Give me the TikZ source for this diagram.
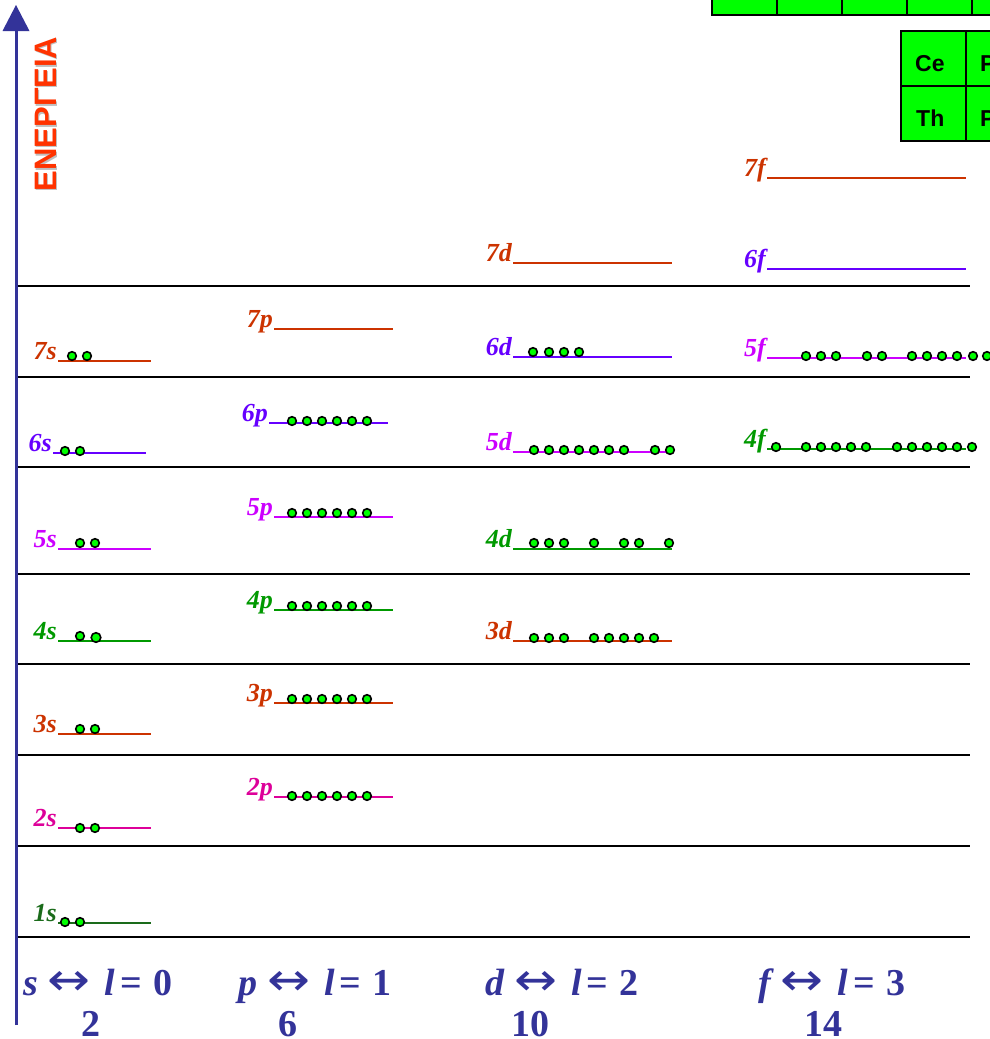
\documentclass[tikz,border=0pt]{standalone}
\usepackage{fontspec}
\setmainfont{Liberation Serif}
\newfontfamily\energysans{Liberation Sans}
\newfontfamily\arrowfont{DejaVu Sans}
\definecolor{axisblue}{HTML}{333399}
\definecolor{orr}{HTML}{CC3300}
\definecolor{vio}{HTML}{6600FF}
\definecolor{mag}{HTML}{CC00FF}
\definecolor{grn}{HTML}{009900}
\definecolor{pnk}{HTML}{DD0099}
\definecolor{dgrn}{HTML}{1A6B1A}
\definecolor{ered}{HTML}{FF3300}
\definecolor{tgreen}{HTML}{00FF00}
\tikzset{
  lbl/.style={font=\fontsize{26}{26}\selectfont\bfseries\itshape, inner sep=0pt, anchor=base east},
  eline/.style={line width=1.5pt},
  electron/.style={draw=black, fill=tgreen, line width=1.6pt},
  level/.style={draw=black, line width=2pt},
  cell/.style={draw=black, fill=tgreen, line width=2pt},
  celltext/.style={font=\energysans\fontsize{23}{23}\selectfont\bfseries, inner sep=0pt, anchor=base west},
  qlabel/.style={font=\fontsize{38}{38}\selectfont\bfseries, text=axisblue, inner sep=0pt, anchor=base west},
  qnum/.style={font=\fontsize{38}{38}\selectfont\bfseries, text=axisblue, inner sep=0pt, anchor=base}
}
\newcommand\orbital[6]{%
  \node[lbl, text=#3] (#1) at (#4-1, #6-2) {#2};
  \draw[eline, #3] (#4,#6) -- (#5,#6);
}
\newcommand\lrarr{\hspace{10pt}{\arrowfont\mdseries\scalebox{1.35}[1.2]{↔}}\hspace{14pt}}
\newcommand\qrow[2]{\itshape #1\upshape\lrarr\itshape l\upshape\hspace{5pt}=\hspace{11pt}#2}
\begin{document}
\begin{tikzpicture}[x=1pt,y=-1pt]
\clip (0,0) rectangle (990,1039);
\fill[white] (0,0) rectangle (990,1039);

% green tables
\foreach \x in {712,777,842,907,972} \draw[cell] (\x,-30) rectangle (\x+65,15);
\draw[cell] (901,31) rectangle (966,86);
\draw[cell] (966,31) rectangle (1031,86);
\draw[cell] (901,86) rectangle (966,141);
\draw[cell] (966,86) rectangle (1031,141);
\node[celltext] (ce) at (915,71) {Ce};
\node[celltext] (pr) at (980,71) {Pr};
\node[celltext] (th) at (916,126) {Th};
\node[celltext] (pa) at (980,126) {Pa};

% horizontal levels
\foreach \y in {286,377,467,574,664,755,846,937} \draw[level] (16,\y) -- (970,\y);

% axis
\draw[axisblue, line width=3pt] (16,1025) -- (16,28);
\fill[axisblue] (16,5) -- (29.5,31) -- (2.5,31) -- cycle;
\node[rotate=90, font=\energysans\fontsize{31}{31}\selectfont\bfseries, text=black!25, inner sep=0pt] (energyshadow) at (47,115.5) {ΕΝΕΡΓΕΙΑ};
\node[rotate=90, font=\energysans\fontsize{31}{31}\selectfont\bfseries, text=ered, inner sep=0pt] (energy) at (45.5,114) {ΕΝΕΡΓΕΙΑ};

% s column
\orbital{o7s}{7s}{orr}{58}{151}{361}
\orbital{o6s}{6s}{vio}{53}{146}{453}
\orbital{o5s}{5s}{mag}{58}{151}{549}
\orbital{o4s}{4s}{grn}{58}{151}{641}
\orbital{o3s}{3s}{orr}{58}{151}{734}
\orbital{o2s}{2s}{pnk}{58}{151}{828}
\orbital{o1s}{1s}{dgrn}{58}{151}{923}
\foreach \x in {72,87} \filldraw[electron] (\x,356) circle (4.3);
\foreach \x in {65,80} \filldraw[electron] (\x,451) circle (4.3);
\foreach \x in {80,95} \filldraw[electron] (\x,543) circle (4.3);
\filldraw[electron] (80,636) circle (4.3);
\filldraw[electron] (96,637.5) circle (4.8);
\foreach \x in {80,95} \filldraw[electron] (\x,729) circle (4.3);
\foreach \x in {80,95} \filldraw[electron] (\x,828) circle (4.3);
\foreach \x in {65,80} \filldraw[electron] (\x,922) circle (4.3);

% p column
\orbital{o7p}{7p}{orr}{274}{393}{329}
\orbital{o6p}{6p}{vio}{269}{388}{423}
\orbital{o5p}{5p}{mag}{274}{393}{517}
\orbital{o4p}{4p}{grn}{274}{393}{610}
\orbital{o3p}{3p}{orr}{274}{393}{703}
\orbital{o2p}{2p}{pnk}{274}{393}{797}
\foreach \y in {421,513,606,699,796}
  \foreach \x in {292,307,322,337,352,367} \filldraw[electron] (\x,\y) circle (4.3);

% d column
\orbital{o7d}{7d}{orr}{513}{672}{263}
\orbital{o6d}{6d}{vio}{513}{672}{357}
\orbital{o5d}{5d}{mag}{513}{672}{452}
\orbital{o4d}{4d}{grn}{513}{672}{549}
\orbital{o3d}{3d}{orr}{513}{672}{641}
\foreach \x in {533,549,564,579} \filldraw[electron] (\x,352) circle (4.3);
\foreach \x in {534,549,564,579,594,609,624,655,670} \filldraw[electron] (\x,450) circle (4.3);
\foreach \x in {534,549,564,594,624,639,669} \filldraw[electron] (\x,543) circle (4.3);
\foreach \x in {534,549,564,594,609,624,639,654} \filldraw[electron] (\x,638) circle (4.3);

% f column
\orbital{o7f}{7f}{orr}{767}{966}{178}
\orbital{o6f}{6f}{vio}{767}{966}{269}
\orbital{o5f}{5f}{mag}{767}{966}{358}
\orbital{o4f}{4f}{grn}{767}{966}{449}
\foreach \x in {806,821,836,867,882,912,927,942,957,973,987} \filldraw[electron] (\x,356) circle (4.3);
\foreach \x in {776,806,821,836,851,866,897,912,927,942,957,972} \filldraw[electron] (\x,447) circle (4.3);

% quantum number labels
\node[qlabel] (ls) at (23,995) {\qrow{s}{0}};
\node[qlabel] (lp) at (238,995) {\qrow{p}{1}};
\node[qlabel] (ld) at (485,995) {\qrow{d}{2}};
\node[qlabel] (lf) at (758,995) {\qrow{f}{3}};
\node[qnum] (ns) at (91,1036) {2};
\node[qnum] (np) at (288,1036) {6};
\node[qnum] (nd) at (530,1036) {10};
\node[qnum] (nf) at (823,1036) {14};
\end{tikzpicture}
\end{document}
